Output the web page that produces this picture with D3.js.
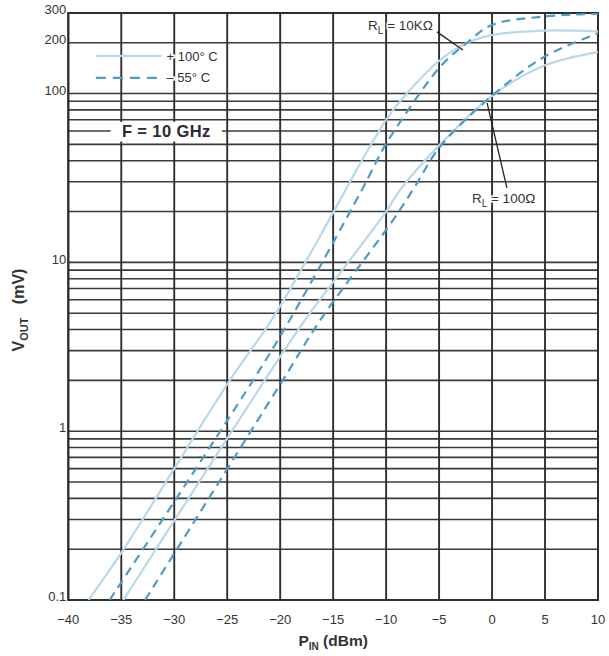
<!DOCTYPE html>
<html><head><meta charset="utf-8">
<script src="https://cdn.jsdelivr.net/npm/d3@7"></script>
<style>
body{margin:0;background:#fff}
svg{display:block}
text{font-family:"Liberation Sans",Arial,Helvetica,sans-serif}
</style>
</head><body>
<svg id="chart" width="609" height="656"></svg>
<script>
// ---- data ----
const xTicks = [-40,-35,-30,-25,-20,-15,-10,-5,0,5,10];
const yTickLabels = [0.1,1,10,100,200,300];
const yDecades = [0.1,1,10,100];
const yMultipliers = [1,2,3,4,5,6,7,8,9];

// R_L = 10 kOhm, +100 C (solid)
const rl10kHotP = [-38.1,-35,-24.7,-20.8,-15,-12.8,-9.8,-7.75,-4.9,-2.4,0,5,10];
const rl10kHotV = [0.1,0.19,2.03,4.56,19.7,35.2,72.9,105,158,199,222,236,233];
// R_L = 10 kOhm, -55 C (dashed)
const rl10kColdP = [-36.1,-22.5,-19.1,-12.3,-10.4,-9.8,-4.9,-2.4,0,5,10];
const rl10kColdV = [0.1,2.03,4.56,26.8,45.6,53,144,199,255,286,297];
// R_L = 100 Ohm, +100 C (solid)
const rl100HotP = [-34.8,-21.4,-17.65,-10,-8.7,-4.9,0,5,10];
const rl100HotV = [0.1,2.03,4.56,20,26.8,50,97,147,176];
// R_L = 100 Ohm, -55 C (dashed)
const rl100ColdP = [-32.75,-19.7,-16.2,-9.35,-7.3,-4.9,0,5,10];
const rl100ColdV = [0.1,2.03,4.56,17.8,28,48.5,97,166,227];

const legendLabels = ["+ 100° C","– 55° C"];

// ---- layout ----
const W = 609, H = 656;
const m = {left:68.3, right:11, top:13, bottom:56};
const iw = W - m.left - m.right, ih = H - m.top - m.bottom;
const svg = d3.select("#chart");
const g = svg.append("g").attr("transform",`translate(${m.left},${m.top})`);

const x = d3.scaleLinear().domain([-40,10]).range([0,iw]);
const y = d3.scaleLog().domain([0.1,300]).range([ih,0]);

const hotColor = "#b9d9eb", coldColor = "#4d9cc6";
const gridColor = "#3a3a3a";

// grid
const yGrid = [];
yDecades.forEach(d => yMultipliers.forEach(k => { const v = +(d*k).toPrecision(3); if (v <= 300) yGrid.push(v); }));
yGrid.push(300);
g.append("g").selectAll("line").data(yGrid).join("line")
  .attr("x1",0).attr("x2",iw)
  .attr("y1",d=>y(d)).attr("y2",d=>y(d))
  .attr("stroke",gridColor).attr("stroke-width",1.6);
g.append("g").selectAll("line").data(xTicks).join("line")
  .attr("x1",d=>x(d)).attr("x2",d=>x(d))
  .attr("y1",0).attr("y2",ih)
  .attr("stroke","#2e2e2e").attr("stroke-width",1.9);
g.append("rect").attr("x",0).attr("y",0).attr("width",iw).attr("height",ih)
  .attr("fill","none").attr("stroke","#2e2e2e").attr("stroke-width",2);

// F = 10 GHz label with white box
const fx0 = x(-36), fx1 = x(-25.5);
g.append("rect").attr("x",fx0).attr("y",y(68)).attr("width",fx1-fx0).attr("height",y(52)-y(68)).attr("fill","#fff");
g.append("text").attr("x",(fx0+fx1)/2).attr("y",y(60)).attr("dy","0.36em")
  .attr("text-anchor","middle").attr("font-size",16.5).attr("font-weight","bold")
  .attr("fill","#2a2a33").attr("letter-spacing",0.4).text("F = 10 GHz");

// curves
const series = [
  {P:rl10kHotP,V:rl10kHotV,color:hotColor,dash:null},
  {P:rl100HotP,V:rl100HotV,color:hotColor,dash:null},
  {P:rl10kColdP,V:rl10kColdV,color:coldColor,dash:"9,6"},
  {P:rl100ColdP,V:rl100ColdV,color:coldColor,dash:"9,6"}
];
const line = d3.line().x(d=>x(d[0])).y(d=>y(d[1])).curve(d3.curveCatmullRom.alpha(0.5));
svg.append("clipPath").attr("id","clip").append("rect").attr("width",iw).attr("height",ih);
const cg = g.append("g").attr("clip-path","url(#clip)");
series.forEach(s => {
  cg.append("path").datum(s.P.map((p,i)=>[p,s.V[i]]))
    .attr("d",line).attr("fill","none").attr("stroke",s.color)
    .attr("stroke-width",2.2).attr("stroke-dasharray",s.dash);
});

// legend
const lg = g.append("g");
const lx0 = x(-37.4), lx1 = x(-31.2);
[[legendLabels[0],hotColor,null,y(167)],[legendLabels[1],coldColor,"10,7",y(124)]].forEach(([t,c,dsh,yy])=>{
  lg.append("line").attr("x1",lx0).attr("x2",lx1).attr("y1",yy).attr("y2",yy)
    .attr("stroke",c).attr("stroke-width",2.2).attr("stroke-dasharray",dsh);
  lg.append("text").attr("x",lx1+5).attr("y",yy).attr("dy","0.36em")
    .attr("font-size",13).attr("fill","#333")
    .attr("stroke","#fff").attr("stroke-width",3).attr("paint-order","stroke")
    .text(t);
});

// annotations
function rlLabel(xx,yy,sub,rest){
  const t = g.append("text").attr("x",xx).attr("y",yy).attr("font-size",13.5).attr("fill","#333")
    .attr("stroke","#fff").attr("stroke-width",3).attr("paint-order","stroke");
  t.append("tspan").text("R");
  t.append("tspan").attr("font-size",10).attr("dy",4).text(sub);
  t.append("tspan").attr("dy",-4).text(rest);
}
g.append("line").attr("x1",x(-5.2)).attr("y1",y(232)).attr("x2",x(-2.75)).attr("y2",y(181))
  .attr("stroke","#222").attr("stroke-width",1.3);
g.append("line").attr("x1",x(-0.47)).attr("y1",y(88)).attr("x2",x(1.4)).attr("y2",y(27.6))
  .attr("stroke","#222").attr("stroke-width",1.3);
rlLabel(x(-11.7),y(238),"L"," = 10KΩ");
rlLabel(x(-1.9),y(22.5),"L"," = 100Ω");

// axes tick labels
g.append("g").selectAll("text").data(xTicks).join("text")
  .attr("x",d=>x(d)).attr("y",ih+24).attr("text-anchor","middle")
  .attr("font-size",13).attr("fill","#333")
  .text(d => d<0 ? "\u2212"+Math.abs(d) : d);
g.append("g").selectAll("text").data(yTickLabels).join("text")
  .attr("x",-2).attr("y",d=>y(d)).attr("dy","0.1em").attr("text-anchor","end")
  .attr("font-size",13).attr("fill","#333")
  .text(d=>d);

// axis titles
const xt = svg.append("text").attr("x",m.left+iw/2).attr("y",H-10).attr("text-anchor","middle")
  .attr("font-size",15.5).attr("font-weight","bold").attr("fill","#333");
xt.append("tspan").text("P");
xt.append("tspan").attr("font-size",10).attr("dy",4).text("IN");
xt.append("tspan").attr("dy",-4).text(" (dBm)");

const yt = svg.append("text").attr("transform",`translate(24,310) rotate(-90)`)
  .attr("text-anchor","middle").attr("font-size",16).attr("font-weight","bold").attr("fill","#333")
  .attr("xml:space","preserve");
yt.append("tspan").text("V");
yt.append("tspan").attr("font-size",11).attr("dy",4).text("OUT");
yt.append("tspan").attr("dy",-4).text("   (mV)");
</script>
</body></html>
